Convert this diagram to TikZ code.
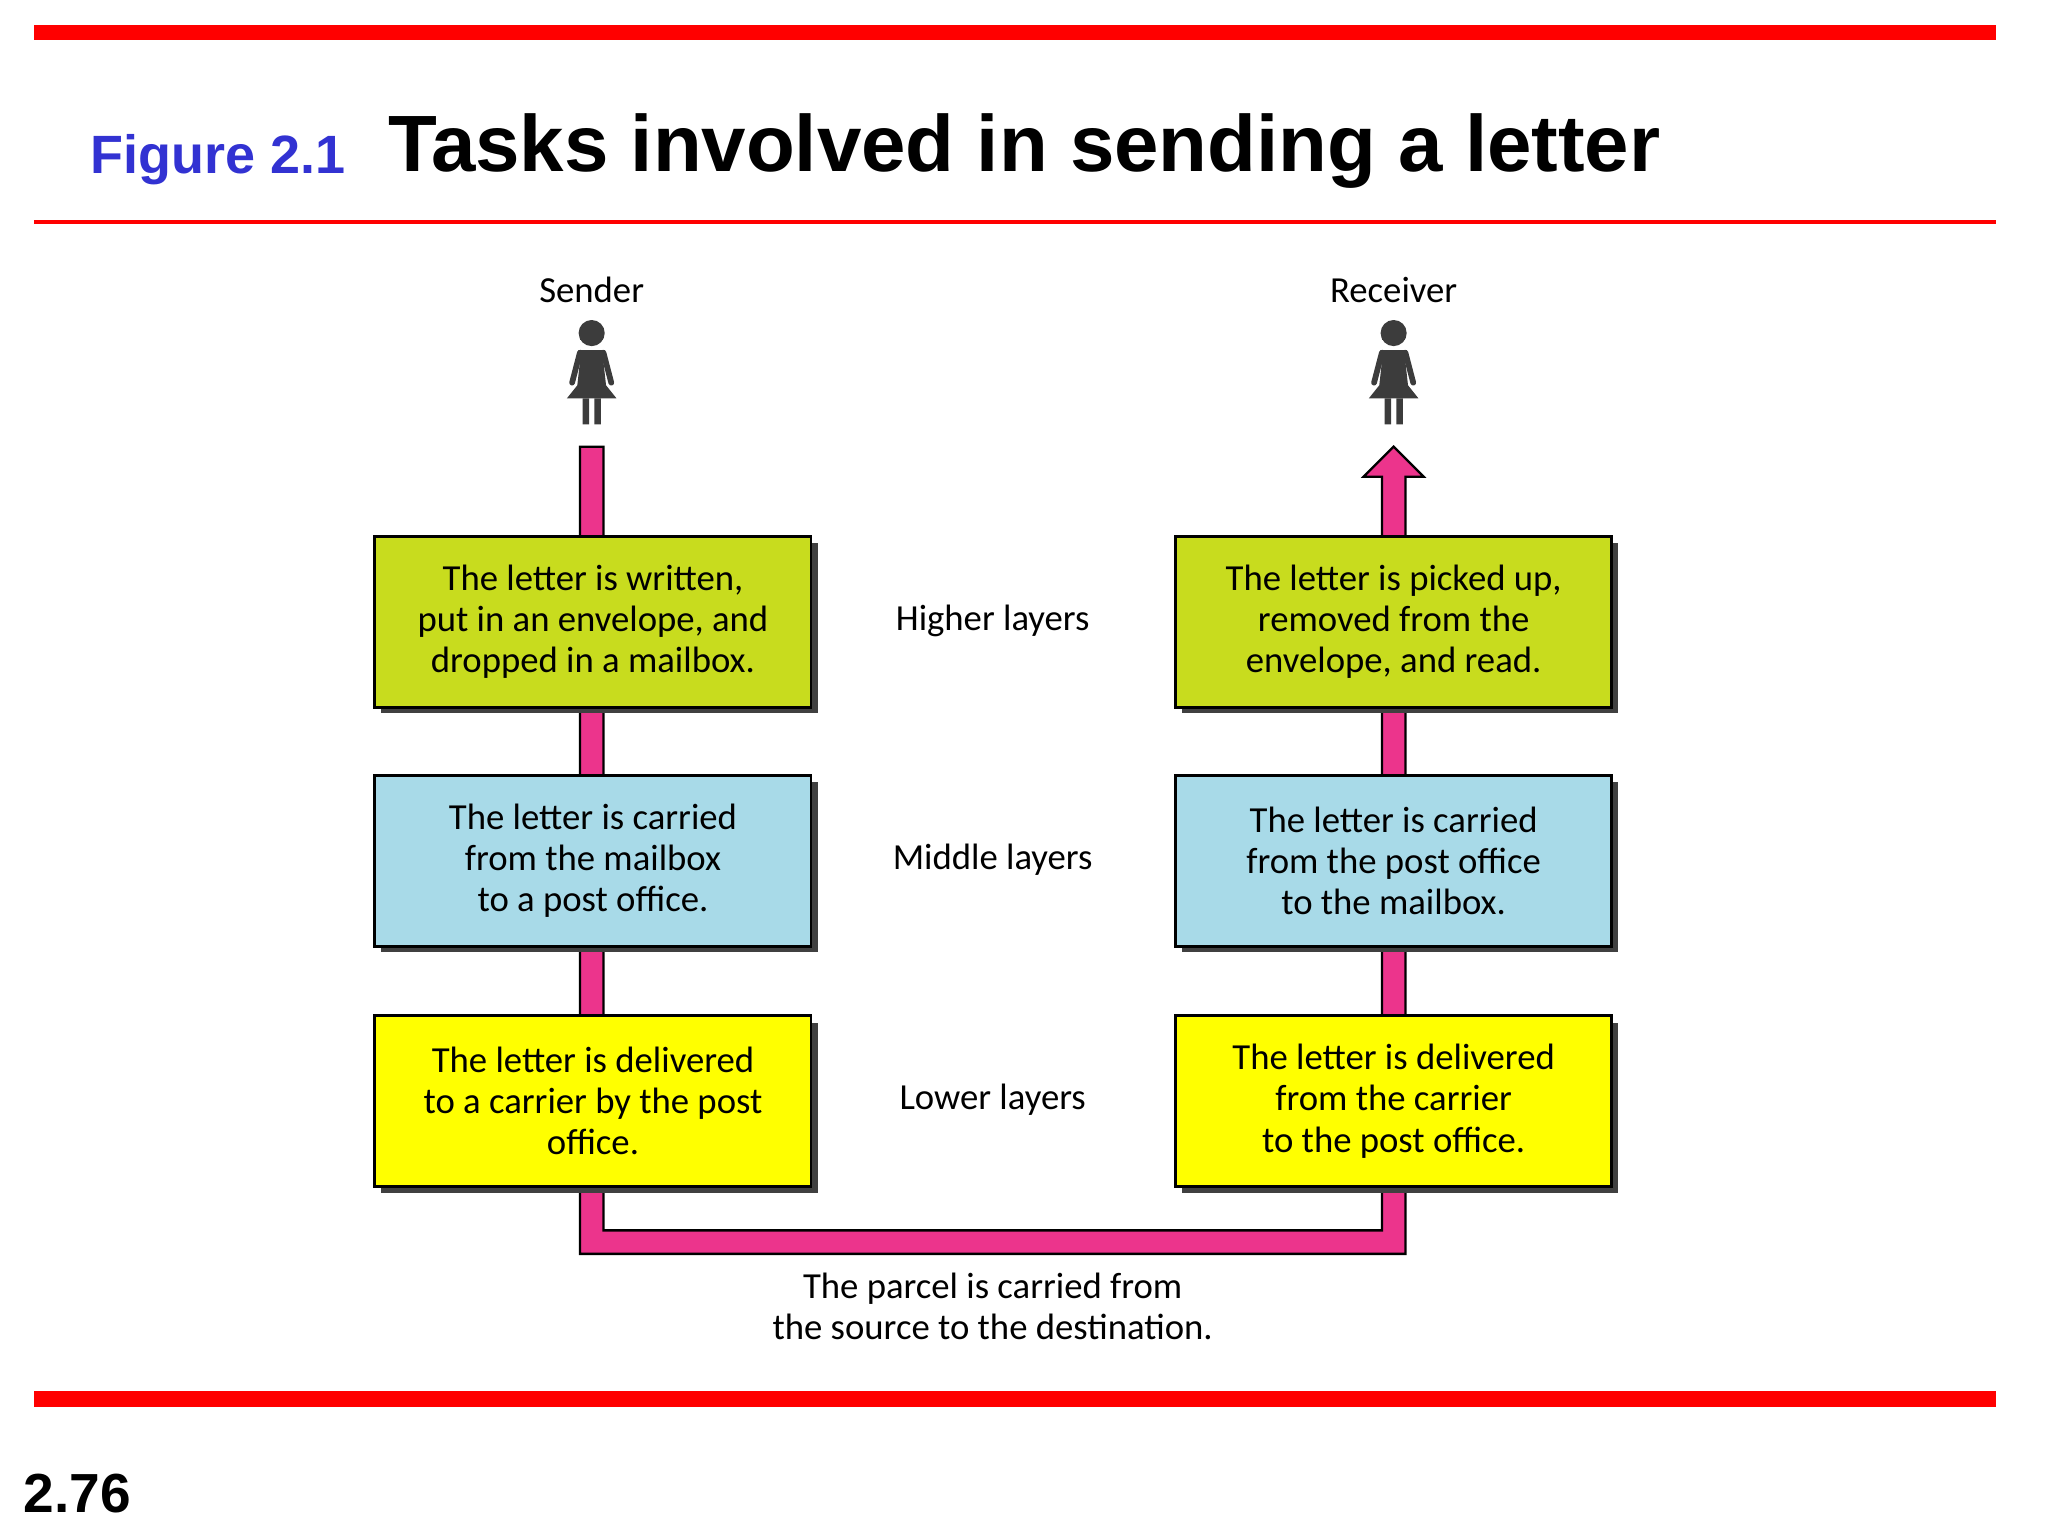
\documentclass[tikz,border=0pt]{standalone}
\usepackage{fontspec}
\setmainfont{Liberation Sans}
\newfontfamily\dfont{Carlito}
\definecolor{pipe}{RGB}{236,52,140}
\definecolor{bgreen}{RGB}{200,220,30}
\definecolor{bblue}{RGB}{168,218,232}
\definecolor{byellow}{RGB}{255,255,0}
\definecolor{fblue}{RGB}{50,50,210}
\definecolor{figgray}{RGB}{60,60,60}
\tikzset{
 layerbox/.style={draw=black,line width=1.2pt,minimum width=334*0.02cm,minimum height=131*0.02cm,align=center,font=\dfont\fontsize{16}{18}\selectfont},
 lbl/.style={font=\dfont\fontsize{16}{18}\selectfont,align=center},
}
\newcommand{\personicon}[2]{%
 \begin{scope}[shift={(#1,#2)}]
   \fill[figgray] (0,10) circle (0.2cm);
   \fill[figgray] (-9,8) rectangle (9,15);
   \fill[figgray] (-8,23)--(8,23)--(11,50)--(19,60)--(-19,60)--(-11,50)--cycle;
   \draw[figgray,line width=2.5pt,line cap=round] (-9,25)--(-15,48) (9,25)--(15,48);
   \fill[figgray] (-7,60) rectangle (-2,80) (2,60) rectangle (7,80);
 \end{scope}}
\begin{document}
\begin{tikzpicture}[x=0.02cm,y=-0.02cm]
\useasboundingbox (0,0) rectangle (1568,1176);
\fill[red] (26,19) rectangle (1528,31);
\fill[red] (26,168.5) rectangle (1528,171.5);
\fill[red] (26,1065) rectangle (1528,1077);
\node[anchor=base west,text=fblue,font=\bfseries\fontsize{23.5}{28}\selectfont] (fig) at (63,133) {Figure 2.1};
\node[anchor=base west,font=\bfseries\fontsize{34.8}{40}\selectfont] (title) at (291,131) {Tasks involved in sending a letter};
\node[anchor=base west,font=\bfseries\fontsize{24}{30}\selectfont] (pg) at (12,1158) {2.76};
% pipe
\filldraw[fill=pipe,draw=black,line width=1pt] (444,342)--(462,342)--(462,942)--(1058,942)--(1058,365)--(1044,365)--(1067,342)--(1090,365)--(1076,365)--(1076,960)--(444,960)--cycle;
% boxes
\foreach \n/\x/\y/\c/\t in {
 lh/454/476/bgreen/{The letter is written,\\put in an envelope, and\\dropped in a mailbox.},
 lm/454/659/bblue/{The letter is carried\\from the mailbox\\to a post office.},
 ll/454/843/byellow/{The letter is delivered\\to a carrier by the post\\office.},
 rh/1067/476/bgreen/{The letter is picked up,\\removed from the\\envelope, and read.},
 rm/1067/659/bblue/{The letter is carried\\from the post office\\to the mailbox.},
 rl/1067/843/byellow/{The letter is delivered\\from the carrier\\to the post office.}}{
 \fill[black!75] (\x-162,\y-60) rectangle (\x+172,\y+70);
 \node[layerbox,fill=\c] (\n) at (\x,\y) {\t};
}
\node[lbl] (hl) at (760,475) {Higher layers};
\node[lbl] (ml) at (760,658) {Middle layers};
\node[lbl] (lo) at (760,842) {Lower layers};
\node[lbl] (bt) at (760,1000) {The parcel is carried from\\the source to the destination.};
\node[lbl] (snd) at (453,222) {Sender};
\node[lbl] (rcv) at (1067,222) {Receiver};
\personicon{453}{245}
\personicon{1067}{245}
\end{tikzpicture}
\end{document}
